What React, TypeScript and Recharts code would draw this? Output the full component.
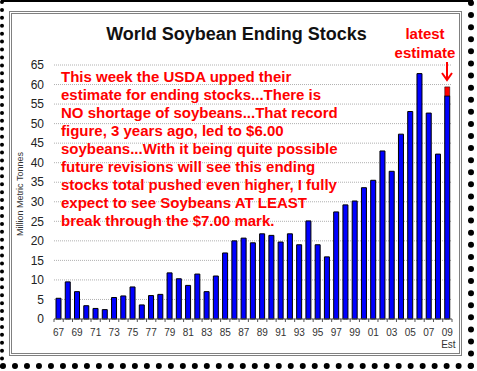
import React from "react";
import {
  BarChart,
  Bar,
  XAxis,
  YAxis,
  CartesianGrid,
} from "recharts";

// marketing years 1967/68 .. 2009/10 (09 is the USDA estimate)
const years = [
  "67", "68", "69", "70", "71", "72", "73", "74", "75", "76",
  "77", "78", "79", "80", "81", "82", "83", "84", "85", "86",
  "87", "88", "89", "90", "91", "92", "93", "94", "95", "96",
  "97", "98", "99", "00", "01", "02", "03", "04", "05", "06",
  "07", "08", "09",
];

// ending stocks, million metric tonnes
const endingStocks = [
  5.3, 9.5, 7.0, 3.4, 2.7, 2.4, 5.5, 5.9, 8.2, 3.6,
  6.0, 6.3, 11.8, 10.3, 8.6, 11.5, 7.0, 11.0, 16.9, 20.0,
  20.7, 19.5, 21.8, 21.4, 19.7, 21.8, 19.0, 25.1, 19.0, 15.9,
  27.4, 29.2, 30.2, 33.6, 35.5, 43.0, 37.8, 47.3, 53.1, 62.8,
  52.7, 42.2, 57.1,
];

// this week's upward revision, stacked on the estimate year
const revisionYear = "09";
const revisionAmount = 2.3;

const yTicks = [0, 5, 10, 15, 20, 25, 30, 35, 40, 45, 50, 55, 60, 65];

const noteLines = [
  "This week the USDA upped their",
  "estimate for ending stocks...There is",
  "NO shortage of soybeans...That record",
  "figure, 3 years ago, led to $6.00",
  "soybeans...With it being quite possible",
  "future revisions will see this ending",
  "stocks total pushed even higher, I fully",
  "expect to see Soybeans AT LEAST",
  "break through the $7.00 mark.",
];

const data = years.map((year, i) => ({
  year,
  stocks: endingStocks[i],
  revision: year === revisionYear ? revisionAmount : 0,
}));

const FONT = "'Liberation Sans', Arial, sans-serif";
const PLOT_W = 398;
const BAND = PLOT_W / years.length;

function YearTick(props: any) {
  const { x, y, payload, index } = props;
  const half = BAND / 2;
  const last = index === years.length - 1;
  return (
    <g>
      <line x1={x - half} y1={y} x2={x - half} y2={y + 3} stroke="#555" />
      {last && (
        <line x1={x + half} y1={y} x2={x + half} y2={y + 3} stroke="#555" />
      )}
      {index % 2 === 0 && (
        <text
          x={x}
          y={y + 17}
          textAnchor="middle"
          fontSize={10}
          fontFamily={FONT}
          fill="#333"
        >
          {payload.value}
        </text>
      )}
      {last && (
        <text
          x={x + 1}
          y={y + 29}
          textAnchor="middle"
          fontSize={10}
          fontFamily={FONT}
          fill="#333"
        >
          Est
        </text>
      )}
    </g>
  );
}

export default function App() {
  return (
    <div
      style={{
        position: "absolute",
        left: 0,
        top: 0,
        width: 477,
        height: 371,
        background: "#fff",
        fontFamily: FONT,
      }}
    >
      {/* outer frame with dotted shadow */}
      <div
        style={{
          position: "absolute",
          left: 0,
          top: 0,
          width: 474,
          height: 369,
          boxSizing: "border-box",
          borderTop: "2px solid #000",
          borderLeft: "4px dotted #000",
          borderRight: "6px dotted #000",
          borderBottom: "6px dotted #000",
        }}
      />
      {/* inner box */}
      <div
        style={{
          position: "absolute",
          left: 9,
          top: 11,
          width: 453,
          height: 345,
          boxSizing: "border-box",
          border: "3px double #808080",
        }}
      />

      <div style={{ position: "absolute", left: 0, top: 0 }}>
        <BarChart
          width={477}
          height={371}
          data={data}
          margin={{ top: 65, right: 25, left: 0, bottom: 22 }}
        >
          <CartesianGrid
            vertical={false}
            stroke="#b0b0b0"
            strokeDasharray="1 1"
          />
          <XAxis
            dataKey="year"
            height={30}
            interval={0}
            tickSize={0}
            tickMargin={0}
            tickLine={false}
            axisLine={{ stroke: "#555" }}
            tick={<YearTick />}
          />
          <YAxis
            width={54}
            domain={[0, 65]}
            ticks={yTicks}
            interval={0}
            tickSize={0}
            tickMargin={10}
            axisLine={false}
            tickLine={false}
            tick={{ fill: "#222", fontSize: 12, fontFamily: FONT }}
          />
          <Bar
            dataKey="stocks"
            stackId="a"
            barSize={5}
            fill="#0000ff"
            stroke="#000"
            strokeWidth={1}
            isAnimationActive={false}
          />
          <Bar
            dataKey="revision"
            stackId="a"
            barSize={5}
            fill="#ff0000"
            stroke="#000"
            strokeWidth={0.5}
            isAnimationActive={false}
          />
        </BarChart>
      </div>

      {/* title */}
      <div
        style={{
          position: "absolute",
          left: 0,
          width: 473,
          top: 23,
          textAlign: "center",
          fontSize: 18,
          fontWeight: "bold",
          color: "#111",
          lineHeight: "22px",
        }}
      >
        World Soybean Ending Stocks
      </div>

      {/* y axis title */}
      <div
        style={{
          position: "absolute",
          left: 20,
          top: 194,
          fontSize: 9,
          color: "#333",
          whiteSpace: "nowrap",
          transform: "translate(-50%, -50%) rotate(-90deg)",
        }}
      >
        Million Metric Tonnes
      </div>

      {/* latest estimate callout */}
      <div
        style={{
          position: "absolute",
          left: 385,
          width: 80,
          top: 24,
          textAlign: "center",
          fontSize: 15,
          fontWeight: "bold",
          color: "#ff0000",
          lineHeight: "19px",
        }}
      >
        latest
        <br />
        estimate
      </div>
      <svg
        width={14}
        height={22}
        style={{ position: "absolute", left: 440, top: 61 }}
      >
        <line x1={7} y1={1} x2={7} y2={18} stroke="#ff0000" strokeWidth={2} />
        <polyline
          points="2,12 7,19 12,12"
          fill="none"
          stroke="#ff0000"
          strokeWidth={2}
        />
      </svg>

      {/* commentary */}
      <div
        style={{
          position: "absolute",
          left: 61,
          top: 68,
          fontSize: 15,
          fontWeight: "bold",
          color: "#ff0000",
          lineHeight: "18px",
          whiteSpace: "nowrap",
        }}
      >
        {noteLines.map((line) => (
          <div key={line}>{line}</div>
        ))}
      </div>
    </div>
  );
}
